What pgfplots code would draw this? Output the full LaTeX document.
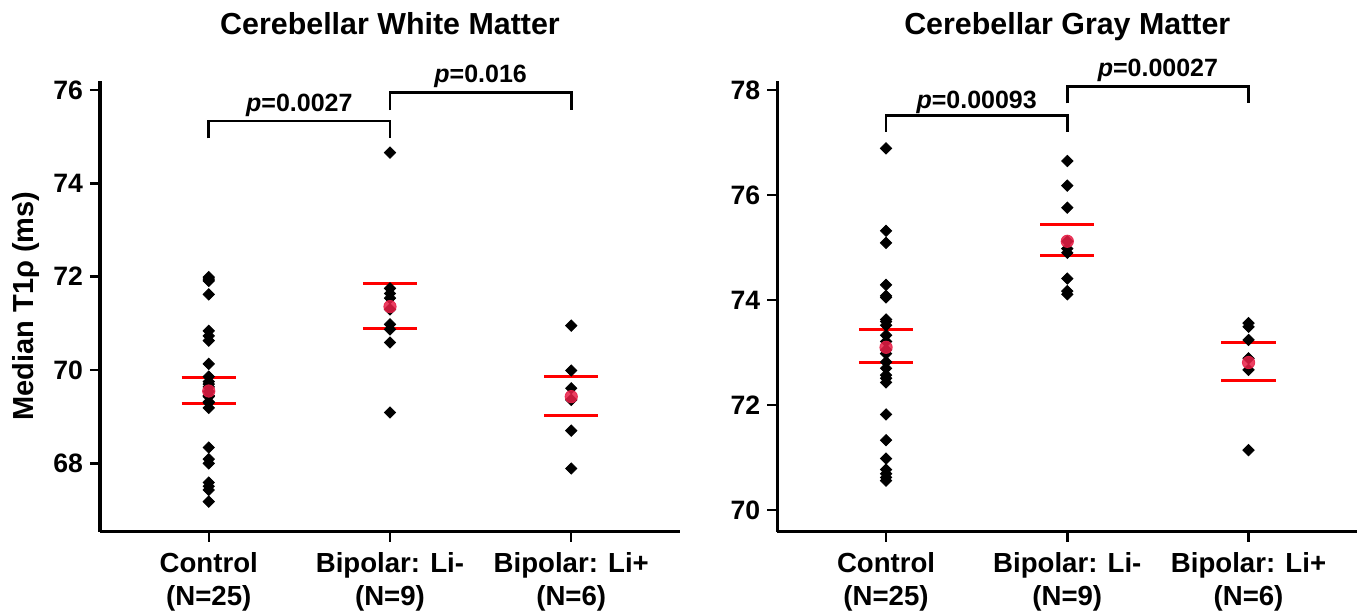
\documentclass[border=0pt]{standalone}
\usepackage{fontspec}
\setmainfont{Liberation Sans}
\usepackage{pgfplots}
\pgfplotsset{compat=1.18}

\definecolor{meanred}{RGB}{232,30,70}
\definecolor{sered}{RGB}{255,0,0}

\tikzset{plab/.style={anchor=base, font=\bfseries\fontsize{12.5}{15}\selectfont}}

\pgfplotsset{
  panel/.style={
    scale only axis, width=290pt, height=225.4pt,
    xmin=0.4, xmax=3.6,
    axis x line*=bottom, axis y line*=left,
    axis line style={line width=1.6pt},
    tick align=outside, major tick length=5pt,
    tick style={black, line width=1.2pt},
    xtick={1,2,3},
    xticklabels={{Control\\(N=25)},{Bipolar: Li-\\(N=9)},{Bipolar: Li+\\(N=6)}},
    xticklabel style={align=center, yshift=-1.8pt, font=\bfseries\fontsize{13.8}{16.75}\selectfont},
    yticklabel style={font=\bfseries\fontsize{13.3}{15}\selectfont},
    /pgf/number format/assume math mode=true,
    title style={font=\bfseries\fontsize{15.2}{18}\selectfont, at={(0.5,1)}, anchor=base, yshift=17.3pt},
    clip=false,
  },
  dots/.style={only marks, mark=square*, mark size=2pt, black, mark options={rotate=45}},
  seline/.style={sered, line width=1.5pt, unbounded coords=jump},
  meanpt/.style={only marks, mark=*, mark size=3.1pt, meanred, mark options={fill opacity=0.85, draw opacity=0.85}},
  bracket/.style={black, line width=1.4pt},
}

\begin{document}
\begin{tikzpicture}
% white matter
\begin{axis}[panel, at={(0,0)}, anchor=south west,
    title={Cerebellar White Matter},
    ymin=66.54, ymax=76.2, ytick={68,70,72,74,76},
    ylabel={Median T1ρ (ms)},
    ylabel style={font=\bfseries\fontsize{14.5}{17}\selectfont, at={(axis description cs:-0.128,0.5)}, anchor=center}]
\addplot[dots] coordinates {
 (1,71.99) (1,71.95) (1,71.91) (1,71.62) (1,70.84) (1,70.73) (1,70.63) (1,70.13)
 (1,69.86) (1,69.75) (1,69.70) (1,69.64) (1,69.54) (1,69.45) (1,69.43) (1,69.32)
 (1,69.30) (1,69.19) (1,68.34) (1,68.09) (1,68.00) (1,67.59) (1,67.51) (1,67.43) (1,67.18)
 (2,74.66) (2,71.75) (2,71.64) (2,71.54) (2,71.30) (2,70.98) (2,70.87) (2,70.59) (2,69.09)
 (3,70.95) (3,69.99) (3,69.61) (3,69.36) (3,68.70) (3,67.89)
};
\addplot[seline] coordinates {
 (0.85,69.84) (1.15,69.84) (1,nan) (0.85,69.29) (1.15,69.29) (1,nan)
 (1.85,71.86) (2.15,71.86) (2,nan) (1.85,70.89) (2.15,70.89) (2,nan)
 (2.85,69.86) (3.15,69.86) (3,nan) (2.85,69.02) (3.15,69.02)
};
\addplot[meanpt] coordinates {(1,69.55) (2,71.36) (3,69.43)};
\addplot[bracket] coordinates {(1,74.965) (1,75.336) (2,75.336) (2,74.965)};
\addplot[bracket] coordinates {(2,75.57) (2,75.95) (3,75.95) (3,75.57)};
\node[plab] at (axis cs:1.5,75.535) {\textit{p}=0.0027};
\node[plab] at (axis cs:2.5,76.156) {\textit{p}=0.016};
\end{axis}
% gray matter
\begin{axis}[panel, at={(338.65pt,0)}, anchor=south west,
    title={Cerebellar Gray Matter},
    ymin=69.59, ymax=78.18, ytick={70,72,74,76,78}]
\addplot[dots] coordinates {
 (1,76.89) (1,75.32) (1,75.09) (1,74.29) (1,74.08) (1,74.05) (1,73.63) (1,73.59)
 (1,73.52) (1,73.33) (1,73.21) (1,73.05) (1,72.98) (1,72.82) (1,72.70) (1,72.57)
 (1,72.51) (1,72.43) (1,71.82) (1,71.33) (1,70.98) (1,70.77) (1,70.69) (1,70.62) (1,70.56)
 (2,76.65) (2,76.18) (2,75.76) (2,75.12) (2,74.98) (2,74.90) (2,74.41) (2,74.17) (2,74.11)
 (3,73.56) (3,73.49) (3,73.24) (3,72.89) (3,72.67) (3,71.14)
};
\addplot[seline] coordinates {
 (0.85,73.43) (1.15,73.43) (1,nan) (0.85,72.81) (1.15,72.81) (1,nan)
 (1.85,75.44) (2.15,75.44) (2,nan) (1.85,74.84) (2.15,74.84) (2,nan)
 (2.85,73.19) (3.15,73.19) (3,nan) (2.85,72.46) (3.15,72.46)
};
\addplot[meanpt] coordinates {(1,73.10) (2,75.12) (3,72.81)};
\addplot[bracket] coordinates {(1,77.206) (1,77.524) (2,77.524) (2,77.206)};
\addplot[bracket] coordinates {(2,77.747) (2,78.076) (3,78.076) (3,77.747)};
\node[plab] at (axis cs:1.5,77.651) {\textit{p}=0.00093};
\node[plab] at (axis cs:2.5,78.253) {\textit{p}=0.00027};
\end{axis}
\pgfresetboundingbox
\path[use as bounding box] (-50pt,-40.25pt) rectangle (630.5pt,265.75pt);
\end{tikzpicture}
\end{document}
